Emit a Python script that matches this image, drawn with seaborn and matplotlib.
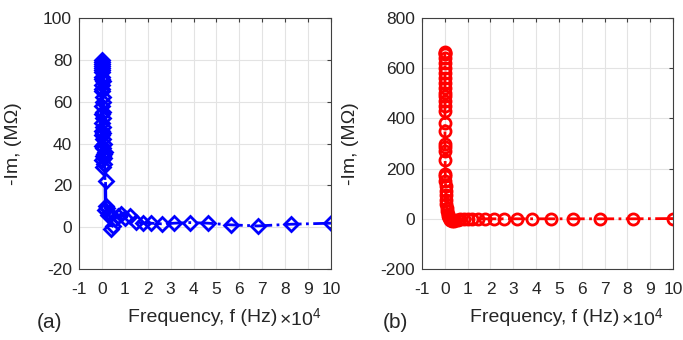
import matplotlib
matplotlib.use('Agg')
import matplotlib.pyplot as plt
import seaborn as sns
import pandas as pd

# frequency (x 10^4 Hz), highest first
freq_a = [10, 8.25, 6.81, 5.62, 4.64, 3.83, 3.16, 2.61, 2.15, 1.78, 1.47, 1.21,
          1.0, 0.825, 0.681, 0.562, 0.464, 0.383, 0.316, 0.261, 0.215, 0.178,
          0.16, 0.147, 0.121, 0.1, 0.09, 0.0825, 0.075, 0.0681, 0.062, 0.0562,
          0.05, 0.0464, 0.042, 0.0383, 0.035, 0.0316, 0.029, 0.0261, 0.024,
          0.0215, 0.019, 0.0178, 0.016, 0.0147, 0.013, 0.0121, 0.011, 0.01,
          0.009, 0.0083, 0.0075, 0.0068, 0.006, 0.0056, 0.005, 0.0046, 0.004]
im_a = [1.9, 1.4, 0.6, 1.1, 1.9, 2.2, 1.9, 1.6, 1.9, 1.9, 2.6, 5.4,
        4.6, 6.2, 5.4, 3.8, 0.6, -1.0, 7.0, 6.0, 9.0, 10.0,
        22.0, 8.0, 36.0, 35.0, 30.0, 40.0, 33.0, 52.0, 45.0, 29.0,
        60.0, 38.0, 48.0, 62.0, 55.0, 34.0, 70.0, 42.0, 75.0,
        65.0, 50.0, 78.0, 44.0, 72.0, 80.0, 68.0, 58.0, 76.0,
        32.0, 46.0, 79.0, 54.0, 74.0, 39.0, 66.0, 71.0, 77.0]

freq_b = [10, 8.25, 6.81, 5.62, 4.64, 3.83, 3.16, 2.61, 2.15, 1.78, 1.47, 1.21,
          1.0, 0.825, 0.681, 0.562, 0.464, 0.383, 0.316, 0.261, 0.215, 0.178,
          0.147, 0.121, 0.1, 0.0825, 0.0681, 0.0562, 0.0464, 0.0383, 0.0316,
          0.0261, 0.0215, 0.0178, 0.0147, 0.0121, 0.01, 0.0083, 0.0068, 0.0056,
          0.0046, 0.0038, 0.0032, 0.0026, 0.0022, 0.0018, 0.0015, 0.0012,
          0.001, 0.0008, 0.0007, 0.0006, 0.0005, 0.0004, 0.0003]
im_b = [1, 0, 0, 0, 0, 0, 0, 0, 0, 0, 0, 0,
        0, 0, -2, -4, -6, -8, -7, -5, -3, 3,
        10, 20, 30, 45, 60, 75, 95, 110, 130,
        150, 170, 180, 235, 270, 285, 300, 350, 380,
        430, 450, 470, 490, 500, 520, 540, 560, 580,
        600, 620, 640, 655, 660, 665]

xticks = list(range(-1, 11))

sns.set_style('white')
plt.rcParams['font.family'] = ['Liberation Sans', 'DejaVu Sans']
plt.rcParams['mathtext.fontset'] = 'custom'
plt.rcParams['mathtext.rm'] = 'Liberation Sans'
plt.rcParams['axes.unicode_minus'] = False
txt = '#262626'

fig = plt.figure(figsize=(6.83, 3.4), dpi=100)
ax1 = fig.add_axes([79 / 683, 71 / 340, 252 / 683, 251 / 340])
ax2 = fig.add_axes([422 / 683, 71 / 340, 251 / 683, 251 / 340])

df_a = pd.DataFrame({'f': freq_a, 'im': im_a})
df_b = pd.DataFrame({'f': freq_b, 'im': im_b})

sns.lineplot(data=df_a, x='f', y='im', ax=ax1, sort=False, estimator=None,
             color='#0000ff', linestyle='-.', linewidth=2, marker='D',
             markersize=7.5, markerfacecolor='none', markeredgecolor='#0000ff',
             markeredgewidth=2)
sns.lineplot(data=df_b, x='f', y='im', ax=ax2, sort=False, estimator=None,
             color='#ff0000', linestyle='-.', linewidth=2, marker='o',
             markersize=8, markerfacecolor='none', markeredgecolor='#ff0000',
             markeredgewidth=2)

ax1.set_ylim(-20, 100)
ax1.set_yticks(range(-20, 101, 20))
ax2.set_ylim(-200, 800)
ax2.set_yticks(range(-200, 801, 200))

for ax, lab, ylx in [(ax1, '(a)', 22 / 683), (ax2, '(b)', 359 / 683)]:
    ax.set_xlim(-1, 10)
    ax.set_xticks(xticks)
    ax.grid(True, color='#e3e3e3', linewidth=0.8)
    ax.set_axisbelow(True)
    for s in ax.spines.values():
        s.set_color('#404040')
        s.set_linewidth(0.8)
        s.set_visible(True)
    ax.tick_params(direction='in', length=3, width=0.8, color='#404040',
                   top=True, right=True, labelsize=12.5, labelcolor=txt)
    ax.tick_params(axis='x', pad=9)
    ax.tick_params(axis='y', pad=5)
    ax.set_xlabel('')
    ax.set_ylabel('-Im, (M\u03a9)', fontsize=14, color=txt)
    x0 = ax.get_position().x0
    ax.yaxis.set_label_coords((ylx * 683 - x0 * 683) / (ax.get_position().width * 683), 0.5)

fig.text(203 / 683, 1 - 318 / 340, 'Frequency, f (Hz)', fontsize=14, color=txt,
         ha='center', va='center')
fig.text(279 / 683, 1 - 318 / 340, r'$\times\mathregular{10^{4}}$', fontsize=14,
         color=txt, ha='left', va='center')
fig.text(49 / 683, 1 - 323 / 340, '(a)', fontsize=15, color=txt, ha='center', va='center')

fig.text(545 / 683, 1 - 318 / 340, 'Frequency, f (Hz)', fontsize=14, color=txt,
         ha='center', va='center')
fig.text(621 / 683, 1 - 318 / 340, r'$\times\mathregular{10^{4}}$', fontsize=14,
         color=txt, ha='left', va='center')
fig.text(395 / 683, 1 - 323 / 340, '(b)', fontsize=15, color=txt, ha='center', va='center')

fig.savefig('out.png', dpi=100)
